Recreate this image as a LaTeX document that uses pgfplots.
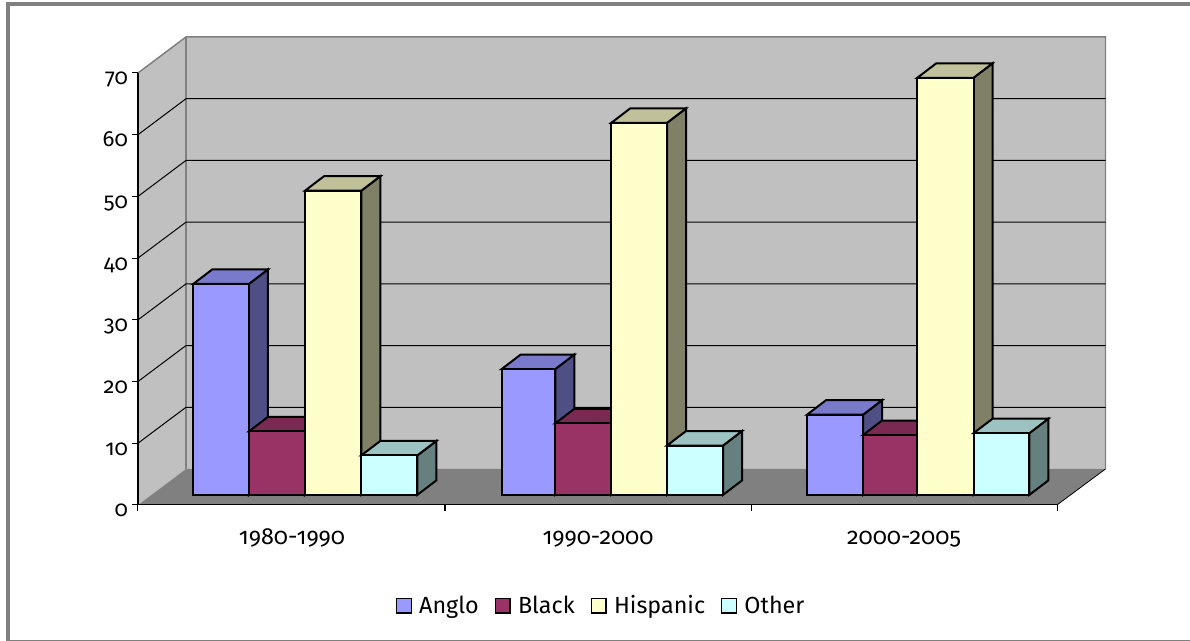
\documentclass[border=0pt]{standalone}
\usepackage{fontspec}
\setmainfont{Fira Sans}[Numbers=OldStyle]
\usepackage{pgfplots}
\pgfplotsset{compat=1.18}
\definecolor{wall}{HTML}{C0C0C0}
\definecolor{floorc}{HTML}{808080}
\definecolor{ango}{HTML}{9999FF}\definecolor{angot}{HTML}{7A7ACC}\definecolor{angos}{HTML}{4F4F85}
\definecolor{blk}{HTML}{993366}\definecolor{blkt}{HTML}{7A2952}\definecolor{blks}{HTML}{551C39}
\definecolor{his}{HTML}{FFFFCC}\definecolor{hist}{HTML}{C0C09A}\definecolor{hiss}{HTML}{808066}
\definecolor{oth}{HTML}{CCFFFF}\definecolor{otht}{HTML}{9CC2C2}\definecolor{oths}{HTML}{668080}
% one box: left x, right x, value, colour prefix
\newcommand{\cube}[4]{%
  \pgfmathsetmacro{\xa}{#1+19}%
  \pgfmathsetmacro{\xb}{#2+19}%
  \pgfmathsetmacro{\yt}{#3+2.35}%
  \addplot[barline,yshift=7.5pt,fill=#4s] coordinates {(#2,0) (\xb,2.35) (\xb,\yt) (#2,#3)} -- cycle;
  \addplot[barline,yshift=7.5pt,fill=#4t] coordinates {(#1,#3) (#2,#3) (\xb,\yt) (\xa,\yt)} -- cycle;
  \addplot[barline,yshift=7.5pt,fill=#4] coordinates {(#1,0) (#2,0) (#2,#3) (#1,#3)} -- cycle;
}
\begin{document}
\begin{tikzpicture}
\begin{axis}[
  x=0.75pt, y=4.628pt,
  xmin=138, xmax=1057, ymin=0, ymax=70,
  axis lines=left, axis line style={-,black,line width=0.8pt},
  axis on top, clip=false,
  tick align=outside, major tick length=4.5pt,
  tick style={black,line width=0.75pt},
  /pgf/number format/assume math mode=true,
  ytick={0,10,...,70},
  yticklabel style={font=\fontsize{16.5}{18}\selectfont,text height=9pt,text depth=3pt,xshift=0.5pt,yshift=-6pt},
  xtick={138,445,751,1057}, xticklabels={,,,},
  extra x ticks={292,598,904},
  extra x tick labels={1980-1990,1990-2000,2000-2005},
  extra x tick style={major tick length=0pt,
    xticklabel style={font=\fontsize{17.5}{19}\selectfont,text height=10pt,text depth=3pt,yshift=-16pt}},
  legend columns=4,
  legend style={at={(axis cs:601.5,-16.3)},anchor=center,draw=none,fill=none,
    font=\fontsize{17.5}{19}\selectfont,
    /tikz/every odd column/.append style={column sep=3.5pt},
    /tikz/every even column/.append style={column sep=10pt}},
  legend image code/.code={\draw[#1] (0pt,-5.5pt) rectangle (11pt,5.5pt);},
  barline/.style={draw=black,line width=1.5pt,line join=miter,forget plot},
  wallline/.style={draw=floorc,line width=1.1pt,forget plot},
  gridline/.style={draw=black,line width=0.75pt,forget plot},
]
\coordinate (bl) at (axis cs:0,-22.04);
\coordinate (tr) at (axis cs:1190,81.83);
\draw[draw=floorc,line width=3pt] (axis cs:1190,81.19) -- (axis cs:8,81.19) -- (axis cs:8,-22.04);
\draw[draw=floorc,line width=0.75pt] (axis cs:6,-21.96) -- (axis cs:1190,-21.96);
\addlegendimage{fill=ango,draw=black,line width=1pt}\addlegendentry{Anglo}
\addlegendimage{fill=blk,draw=black,line width=1pt}\addlegendentry{Black}
\addlegendimage{fill=his,draw=black,line width=1pt}\addlegendentry{Hispanic}
\addlegendimage{fill=oth,draw=black,line width=1pt}\addlegendentry{Other}
% walls and floor
\addplot[fill=wall,draw=none,forget plot] coordinates {(138,0) (186,5.83) (186,75.84) (138,70)} -- cycle;
\addplot[fill=wall,draw=none,forget plot] coordinates {(186,5.83) (1105.5,5.83) (1105.5,75.84) (186,75.84)} -- cycle;
\addplot[fill=floorc,draw=none,forget plot] coordinates {(138,0) (186,5.83) (1105.5,5.83) (1057,0)} -- cycle;
\addplot[wallline] coordinates {(138,70) (186,75.84) (1105.5,75.84) (1105.5,5.83)};
\addplot[wallline] coordinates {(186,75.84) (186,5.83)};
\addplot[gridline,line width=0.6pt] coordinates {(1057,0) (1105.5,5.83)};
% gridlines
\addplot[gridline] coordinates {(138,10) (186,15.83) (1105.5,15.83)};
\addplot[gridline] coordinates {(138,20) (186,25.83) (1105.5,25.83)};
\addplot[gridline] coordinates {(138,30) (186,35.83) (1105.5,35.83)};
\addplot[gridline] coordinates {(138,40) (186,45.83) (1105.5,45.83)};
\addplot[gridline] coordinates {(138,50) (186,55.83) (1105.5,55.83)};
\addplot[gridline] coordinates {(138,60) (186,65.83) (1105.5,65.83)};
% bars
\cube{193.3}{249}{34.2}{ango}
\cube{249}{305}{10.3}{blk}
\cube{305}{361.3}{49.3}{his}
\cube{361.3}{417.3}{6.4}{oth}
\cube{501.7}{555.3}{20.4}{ango}
\cube{555.3}{611.3}{11.6}{blk}
\cube{611.3}{667}{60.3}{his}
\cube{667}{723}{8.0}{oth}
\cube{807}{863}{13.0}{ango}
\cube{863}{917.3}{9.7}{blk}
\cube{917.3}{973.5}{67.6}{his}
\cube{973.5}{1029.3}{10.0}{oth}
\end{axis}
\pgfresetboundingbox
\path (bl) rectangle (tr);
\end{tikzpicture}
\end{document}
